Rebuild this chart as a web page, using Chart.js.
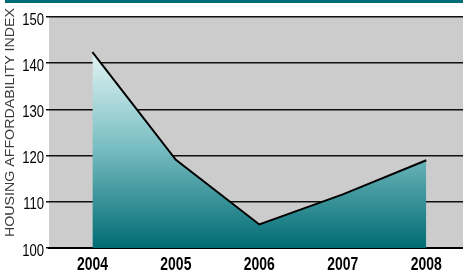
<!DOCTYPE html>
<html>
<head>
<meta charset="utf-8">
<script src="https://cdn.jsdelivr.net/npm/chart.js@4/dist/chart.umd.min.js"></script>
<style>
html,body{margin:0;padding:0;background:#fff;}
#wrap{width:463px;height:273px;position:relative;}
</style>
</head>
<body>
<div id="wrap"><canvas id="c" width="463" height="273"></canvas></div>
<script>
const years = [2004, 2005, 2006, 2007, 2008];
const affordability = [142.4, 119.1, 105.1, 111.6, 119.0];
const yTicks = [100, 110, 120, 130, 140, 150];
const yTitle = 'HOUSING AFFORDABILITY INDEX';

const bgPlugin = {
  id: 'bg',
  beforeDraw(chart) {
    const {ctx, chartArea: a} = chart;
    ctx.save();
    ctx.fillStyle = '#cccccc';
    ctx.fillRect(a.left, a.top, a.right - a.left, a.bottom - a.top);
    ctx.fillStyle = '#006d77';
    ctx.fillRect(5, 0, chart.width - 5, 3);
    ctx.restore();
  }
};

// Draws the axis texts in a narrow (horizontally compressed) face, positioned by the chart's scales
const textPlugin = {
  id: 'narrowText',
  afterDraw(chart) {
    const ctx = chart.ctx;
    const xs = chart.scales.x, ys = chart.scales.y;
    ctx.save();
    ctx.fillStyle = '#000';
    ctx.font = '17px "Liberation Sans"';
    ctx.textAlign = 'right';
    ctx.textBaseline = 'alphabetic';
    yTicks.forEach(v => {
      const y = ys.getPixelForValue(v);
      ctx.save();
      ctx.translate(44, y + 7.5);
      ctx.scale(0.77, 1);
      ctx.fillText(String(v), 0, 0);
      ctx.restore();
    });
    ctx.font = 'bold 18px "Liberation Sans"';
    ctx.textAlign = 'center';
    years.forEach(v => {
      const x = xs.getPixelForValue(v);
      ctx.save();
      ctx.translate(x, 270);
      ctx.scale(0.775, 1);
      ctx.fillText(String(v), 0, 0);
      ctx.restore();
    });
    ctx.font = '12px "Liberation Sans"';
    ctx.fillStyle = '#3a3a3a';
    ctx.textAlign = 'center';
    ctx.textBaseline = 'middle';
    const w = ctx.measureText(yTitle).width;
    ctx.translate(11, 122.5);
    ctx.rotate(-Math.PI / 2);
    ctx.scale(229 / w, 1);
    ctx.fillText(yTitle, 0, 0);
    ctx.restore();
  }
};

function grad(context) {
  const chart = context.chart;
  const a = chart.chartArea;
  if (!a) return '#5aa';
  const g = chart.ctx.createLinearGradient(0, a.top, 0, a.bottom);
  g.addColorStop(0, '#ffffff');
  g.addColorStop(0.15, '#e4f4f4');
  g.addColorStop(0.55, '#7cc0c4');
  g.addColorStop(1, '#006c74');
  return g;
}

new Chart(document.getElementById('c'), {
  type: 'line',
  data: {
    datasets: [{
      data: years.map((y, i) => ({x: y, y: affordability[i]})),
      borderColor: '#000',
      borderWidth: 2,
      pointRadius: 0,
      tension: 0,
      fill: 'start',
      backgroundColor: grad
    }]
  },
  options: {
    responsive: false,
    animation: false,
    devicePixelRatio: 1,
    layout: {padding: {top: 17, right: 0, bottom: 0, left: 0}},
    plugins: {legend: {display: false}, tooltip: {enabled: false}},
    scales: {
      x: {
        type: 'linear',
        min: 2003.48,
        max: 2008.44,
        afterBuildTicks(s) { s.ticks = years.map(v => ({value: v})); },
        afterFit(s) { s.height = 25; },
        grid: {display: false, drawTicks: false},
        border: {display: true, color: '#000', width: 2},
        ticks: {display: false}
      },
      y: {
        min: 100,
        max: 150,
        afterBuildTicks(s) { s.ticks = yTicks.map(v => ({value: v})); },
        afterFit(s) { s.width = 49; s.paddingTop = 0; s.paddingBottom = 0; },
        grid: {color: '#111', lineWidth: 1.5, tickLength: 3, drawTicks: true},
        border: {display: false},
        title: {display: false, text: yTitle},
        ticks: {display: false}
      }
    }
  },
  plugins: [bgPlugin, textPlugin]
});
</script>
</body>
</html>
